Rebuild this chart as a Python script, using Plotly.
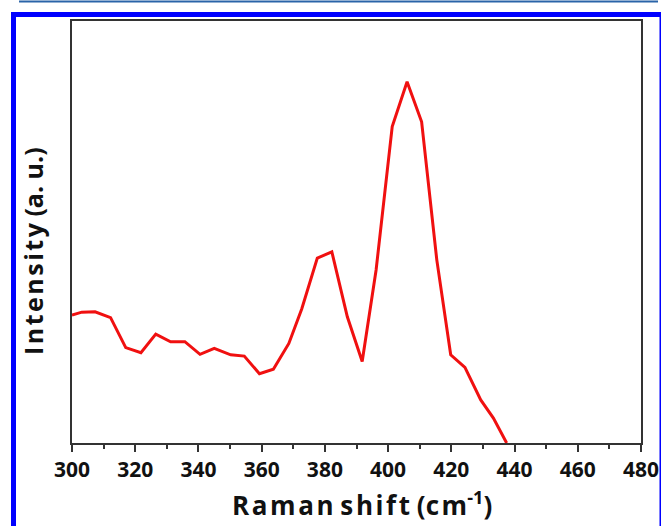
import plotly.graph_objects as go

# Raman spectrum (arbitrary intensity units)
raman_shift = [300, 303.1, 307.3, 312.2, 317.0, 321.8, 326.5, 331.2, 335.7, 340.5,
               345.0, 350.2, 354.5, 359.3, 363.7, 368.6, 372.7, 377.6, 382.2, 387.1,
               391.8, 396.2, 401.3, 406.0, 410.6, 415.4, 419.8, 424.3, 429.3, 433.3, 437.5]
intensity = [30.3, 31.0, 31.1, 29.7, 22.6, 21.4, 25.8, 24.0, 24.0, 21.0,
             22.4, 20.9, 20.6, 16.4, 17.5, 23.6, 31.8, 43.8, 45.3, 29.9,
             19.3, 41.0, 75.0, 85.6, 76.1, 43.4, 20.9, 17.9, 10.2, 5.9, 0.0]

x_ticks = [300, 320, 340, 360, 380, 400, 420, 440, 460, 480]

FONT = "Open Sans"

fig = go.Figure()
fig.add_trace(go.Scatter(
    x=raman_shift, y=intensity, mode="lines",
    line=dict(color="#f01010", width=3),
    showlegend=False,
))

fig.update_layout(
    width=661, height=526,
    margin=dict(l=72, r=20, t=21, b=83, autoexpand=False),
    paper_bgcolor="white", plot_bgcolor="white",
    xaxis=dict(
        range=[300, 480], tickvals=x_ticks, automargin=False,
        ticks="outside", ticklen=7, tickwidth=2, tickcolor="#333",
        minor=dict(ticks="outside", ticklen=4, tickwidth=1.5, dtick=10, tickcolor="#333"),
        showline=True, linewidth=2, linecolor="#333", mirror=True,
        showgrid=False, zeroline=False,
        tickfont=dict(family=FONT, size=21, weight="bold", color="#111"),
    ),
    yaxis=dict(
        range=[0, 100], showticklabels=False, ticks="", automargin=False,
        showline=True, linewidth=2, linecolor="#333", mirror=True,
        showgrid=False, zeroline=False,
    ),
    annotations=[
        dict(text="R\u200aa\u200am\u200aa\u200an s\u200ah\u200ai\u200af\u200at (c\u200am<sup>-1</sup>)",
             xref="paper", yref="paper", x=0.51, y=-0.145,
             xanchor="center", yanchor="middle", showarrow=False,
             font=dict(family=FONT, size=26, weight="bold", color="#111")),
        dict(text="I\u200an\u200at\u200ae\u200an\u200as\u200ai\u200at\u200ay (a. u.)",
             xref="paper", yref="paper", x=-0.0685, y=0.455, textangle=-90,
             xanchor="center", yanchor="middle", showarrow=False,
             font=dict(family=FONT, size=25, weight="bold", color="#111")),
    ],
    shapes=[
        # outer blue frame
        dict(type="rect", xref="paper", yref="paper",
             x0=-0.1028, x1=1.0369, y0=-0.206, y1=1.0154,
             line=dict(color="#0000ff", width=5), layer="above"),
        # thin rule along the top
        dict(type="line", xref="paper", yref="paper",
             x0=-0.0931, x1=1.0299, y0=1.0462, y1=1.0462,
             line=dict(color="#2a64a8", width=2)),
    ],
)

fig.write_html("out.html")
